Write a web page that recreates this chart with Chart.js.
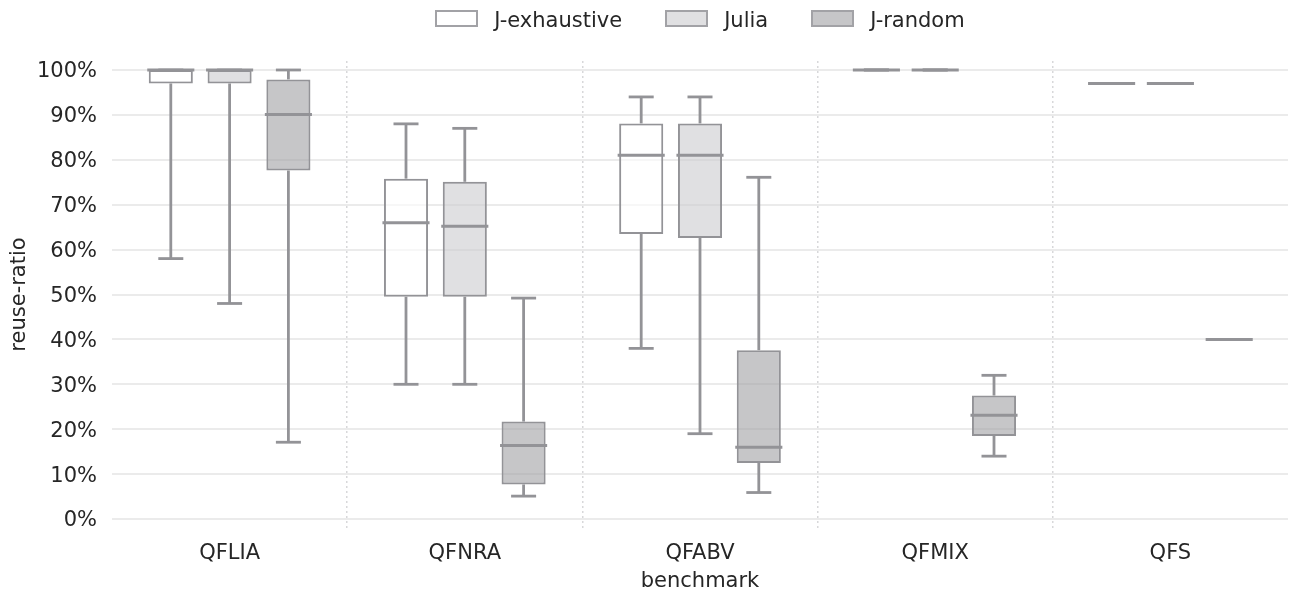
<!DOCTYPE html>
<html>
<head>
<meta charset="utf-8">
<script src="https://cdn.jsdelivr.net/npm/chart.js@4.4.1/dist/chart.umd.min.js"></script>
<style>
  html, body { margin: 0; padding: 0; background: #ffffff; }
  #wrap { position: relative; width: 1298px; height: 594px; }
  #legend {
    position: absolute; top: 8px; left: 112px; width: 1176px;
    display: flex; justify-content: center; align-items: flex-start;
    font-family: 'DejaVu Sans', sans-serif; font-size: 21px; color: #262626;
  }
  .item { display: flex; align-items: flex-start; }
  .item + .item { margin-left: 43px; }
  .swatch { width: 43px; height: 17px; box-sizing: border-box; border: 2px solid #a2a2a6; margin-top: 2px; margin-right: 16px; }
  .label { line-height: normal; white-space: nowrap; }
</style>
</head>
<body>
<div id="wrap">
  <canvas id="c" width="1298" height="594"></canvas>
  <div id="legend"></div>
</div>
<script>
// ---- data ----
const categories = ['QFLIA', 'QFNRA', 'QFABV', 'QFMIX', 'QFS'];
const seriesNames = ['J-exhaustive', 'Julia', 'J-random'];
const yTickValues = [0, 10, 20, 30, 40, 50, 60, 70, 80, 90, 100];

const exhMin = [58, 30, 38, 100, 97];
const exhQ1  = [97, 49.5, 63.5, 100, 97];
const exhMed = [100, 66, 81, 100, 97];
const exhQ3  = [100, 75.8, 88.1, 100, 97];
const exhMax = [100, 88, 94, 100, 97];

const juliaMin = [48, 30, 19, 100, 97];
const juliaQ1  = [97, 49.5, 62.6, 100, 97];
const juliaMed = [100, 65.2, 81, 100, 97];
const juliaQ3  = [100, 75.1, 88.1, 100, 97];
const juliaMax = [100, 87, 94, 100, 97];

const randMin = [17.1, 5.1, 5.9, 14, 40];
const randQ1  = [77.6, 7.7, 12.5, 18.5, 40];
const randMed = [90.1, 16.4, 16, 23.1, 40];
const randQ3  = [97.9, 21.7, 37.6, 27.5, 40];
const randMax = [100, 49.2, 76.1, 32, 40];

// ---- styles ----
const textColor = '#262626';
const lineColor = '#939397';
const boxFills = ['rgba(255,255,255,0.6)', 'rgba(203,203,207,0.6)', 'rgba(160,160,163,0.6)'];
const swatchFills = ['#ffffff', '#e0e0e2', '#c6c6c8'];

const stats = [
  { min: exhMin, q1: exhQ1, med: exhMed, q3: exhQ3, max: exhMax },
  { min: juliaMin, q1: juliaQ1, med: juliaMed, q3: juliaQ3, max: juliaMax },
  { min: randMin, q1: randQ1, med: randMed, q3: randQ3, max: randMax }
];

const datasets = seriesNames.map((name, d) => ({
  label: name,
  data: categories.map((_, i) => [stats[d].q1[i], stats[d].q3[i]]),
  stats: stats[d],
  backgroundColor: boxFills[d],
  borderColor: lineColor,
  borderWidth: 2,
  borderSkipped: false,
  categoryPercentage: 0.75,
  barPercentage: 0.75
}));

// HTML legend
const legendEl = document.getElementById('legend');
seriesNames.forEach((name, d) => {
  const it = document.createElement('div'); it.className = 'item';
  const sw = document.createElement('div'); sw.className = 'swatch'; sw.style.background = swatchFills[d];
  const lb = document.createElement('span'); lb.className = 'label'; lb.textContent = name;
  it.appendChild(sw); it.appendChild(lb); legendEl.appendChild(it);
});

const whiskerPlugin = {
  id: 'whiskers',
  afterDatasetsDraw(chart) {
    const ctx = chart.ctx;
    const ys = chart.scales.y;
    const seg = (x1, y1, x2, y2) => { ctx.beginPath(); ctx.moveTo(x1, y1); ctx.lineTo(x2, y2); ctx.stroke(); };
    chart.data.datasets.forEach((ds, d) => {
      const meta = chart.getDatasetMeta(d);
      const s = ds.stats;
      meta.data.forEach((bar, i) => {
        const { x, width } = bar.getProps(['x', 'width'], true);
        const yMin = ys.getPixelForValue(s.min[i]);
        const yQ1 = ys.getPixelForValue(s.q1[i]);
        const yMed = ys.getPixelForValue(s.med[i]);
        const yQ3 = ys.getPixelForValue(s.q3[i]);
        const yMax = ys.getPixelForValue(s.max[i]);
        const cap = width * 0.567;
        ctx.save();
        ctx.strokeStyle = lineColor;
        ctx.lineCap = 'butt';
        ctx.lineWidth = 2.8;
        seg(x, yQ3, x, yMax);
        seg(x, yQ1, x, yMin);
        seg(x - cap / 2, yMax, x + cap / 2, yMax);
        seg(x - cap / 2, yMin, x + cap / 2, yMin);
        ctx.lineWidth = 3;
        seg(x - width / 2 - 1.5, yMed, x + width / 2 + 1.5, yMed);
        ctx.restore();
      });
    });
  }
};

Chart.defaults.font.family = "'DejaVu Sans', sans-serif";
Chart.defaults.font.size = 21;
Chart.defaults.color = textColor;

new Chart(document.getElementById('c'), {
  type: 'bar',
  data: { labels: categories, datasets },
  options: {
    responsive: false,
    animation: false,
    layout: { padding: { top: 61, right: 10, bottom: 0, left: 0 } },
    plugins: { legend: { display: false }, tooltip: { enabled: false } },
    scales: {
      x: {
        offset: true,
        grid: {
          offset: true,
          drawTicks: false,
          lineWidth: 1.5,
          color: (c) => (c.type !== 'tick' || c.index === 0) ? 'rgba(0,0,0,0)' : '#d8d8da'
        },
        border: { display: false, dash: [2, 3] },
        ticks: { padding: 13, color: textColor, font: { size: 21 } },
        title: { display: true, text: 'benchmark', color: textColor, font: { size: 21 }, padding: { top: 0, bottom: 0 } },
        afterFit: (s) => { s.height = 66; }
      },
      y: {
        min: -2,
        max: 102,
        afterBuildTicks: (s) => { s.ticks = yTickValues.map(v => ({ value: v })); },
        grid: { color: '#ebebeb', lineWidth: 2, drawTicks: false },
        border: { display: false },
        ticks: { padding: 15, labelOffset: 2, color: textColor, font: { size: 21 }, callback: (v) => v + '%' },
        title: { display: true, text: 'reuse-ratio', color: textColor, font: { size: 21 }, padding: { top: 7, bottom: 0 } },
        afterFit: (s) => { s.width = 112; }
      }
    }
  },
  plugins: [whiskerPlugin]
});
</script>
</body>
</html>
